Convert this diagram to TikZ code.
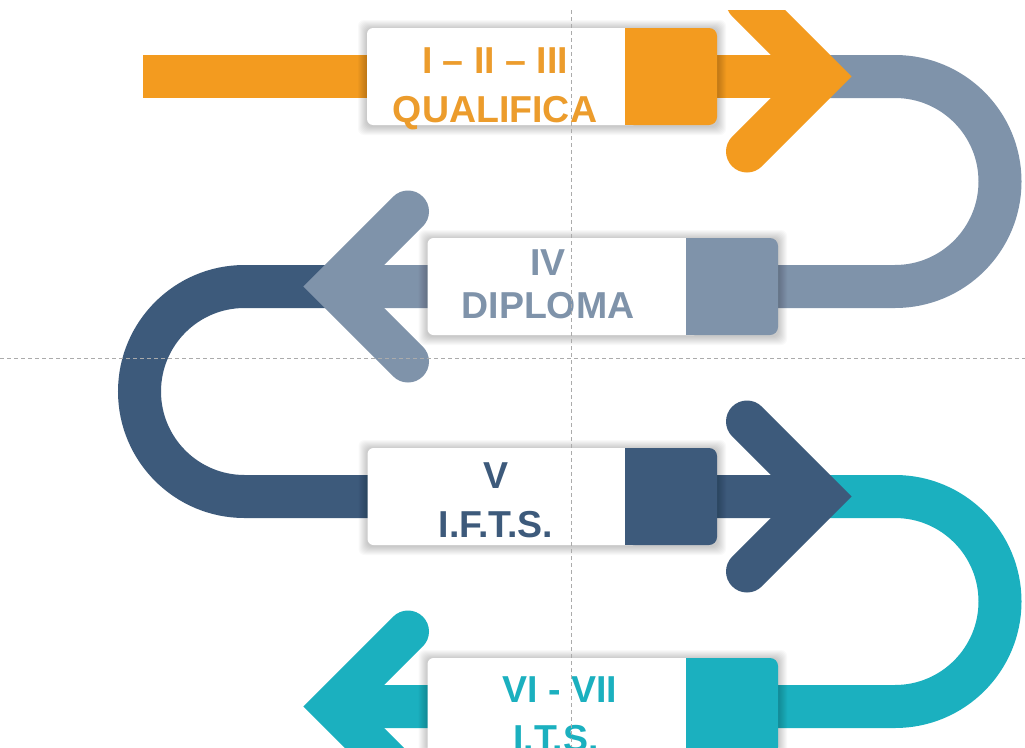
\documentclass[tikz,border=0pt]{standalone}
\usepackage{fontspec}
\setmainfont{Liberation Sans}
\definecolor{cOr}{HTML}{F39B1F}
\definecolor{cOrT}{HTML}{EC9C2C}
\definecolor{cGr}{HTML}{7F93AA}
\definecolor{cDk}{HTML}{3D5A7B}
\definecolor{cTl}{HTML}{1BB0BF}
\definecolor{cGuide}{HTML}{ABABAB}
\newcommand{\mysoftshadow}[4]{%
  \foreach \k in {1,...,9}{%
    \fill[black,opacity=0.022,rounded corners=6pt] ({#1-\k},{#2-\k+1}) rectangle ({#3+\k},{#4+\k+1});
  }}
\begin{document}
\begin{tikzpicture}[x=1pt,y=-1pt,
  band/.style={line width=43pt,line cap=butt},
  chev/.style={line width=42pt,line cap=round,line join=miter},
  wbox/.style={fill=white,rounded corners=6pt,minimum height=97pt,minimum width=273pt,inner sep=0pt},
  lbl/.style={anchor=base,inner sep=0pt,font=\fontsize{37.5pt}{40pt}\selectfont\bfseries},
  guide/.style={cGuide,line width=0.8pt,dash pattern=on 4pt off 3pt}]
\useasboundingbox (0,0) rectangle (1025,747);
\fill[white] (0,0) rectangle (1025,747);
\coordinate (s0) at (143,76.5);
\coordinate (v1) at (822,76.5);
\coordinate (v2) at (333,286.5);
\coordinate (v3) at (822,496.5);
\coordinate (v4) at (333,706.5);
\begin{scope}
\clip (0,10) rectangle (1025,747);
% bands
\draw[band,cOr] (s0) -- (v1);
\draw[band,cGr] (v1) -- (895,76.5) arc[start angle=90,end angle=-90,radius=105pt] -- (v2);
\draw[band,cDk] (v2) -- (244.5,286.5) arc[start angle=90,end angle=270,radius=105pt] -- (v3);
\draw[band,cTl] (v3) -- (895,496.5) arc[start angle=90,end angle=-90,radius=105pt] -- (v4);
% shadows
\mysoftshadow{367}{28}{717}{125}
\mysoftshadow{427.5}{238}{778}{335}
\mysoftshadow{367.5}{448}{717}{545}
\mysoftshadow{427.5}{658}{778}{755}
% boxes
\node[wbox] (b1) at (503.5,76.5) {};
\node[wbox] (b2) at (564,286.5) {};
\node[wbox] (b3) at (504,496.5) {};
\node[wbox] (b4) at (564,706.5) {};
\fill[cOr,rounded corners=8pt] (625,28) rectangle (717,125);
\fill[cOr] (625,28) rectangle (660,125);
\fill[cGr,rounded corners=8pt] (686,238) rectangle (778,335);
\fill[cGr] (686,238) rectangle (720,335);
\fill[cDk,rounded corners=8pt] (625,448) rectangle (717,545);
\fill[cDk] (625,448) rectangle (660,545);
\fill[cTl,rounded corners=8pt] (686,658) rectangle (778,755);
\fill[cTl] (686,658) rectangle (720,755);
% chevrons
\draw[chev,cOr] (747,1.5) -- (v1) -- (747,151.5);
\draw[chev,cGr] (408,211.5) -- (v2) -- (408,361.5);
\draw[chev,cDk] (747,421.5) -- (v3) -- (747,571.5);
\draw[chev,cTl] (408,631.5) -- (v4) -- (408,781.5);
% labels
\node[lbl,text=cOrT] (t1a) at (495,73) {I – II – III};
\node[lbl,text=cOrT] (t1b) at (495,122) {QUALIFICA};
\node[lbl,text=cGr] (t2a) at (548,275) {IV};
\node[lbl,text=cGr] (t2b) at (548,318) {DIPLOMA};
\node[lbl,text=cDk] (t3a) at (496,488) {V};
\node[lbl,text=cDk] (t3b) at (496,537) {I.F.T.S.};
\node[lbl,text=cTl] (t4a) at (560,702) {VI - VII};
\node[lbl,text=cTl] (t4b) at (556,751) {I.T.S.};
\end{scope}
% guides
\draw[guide] (571,10) -- (571,747);
\draw[guide] (0,358) -- (1025,358);
\end{tikzpicture}
\end{document}
